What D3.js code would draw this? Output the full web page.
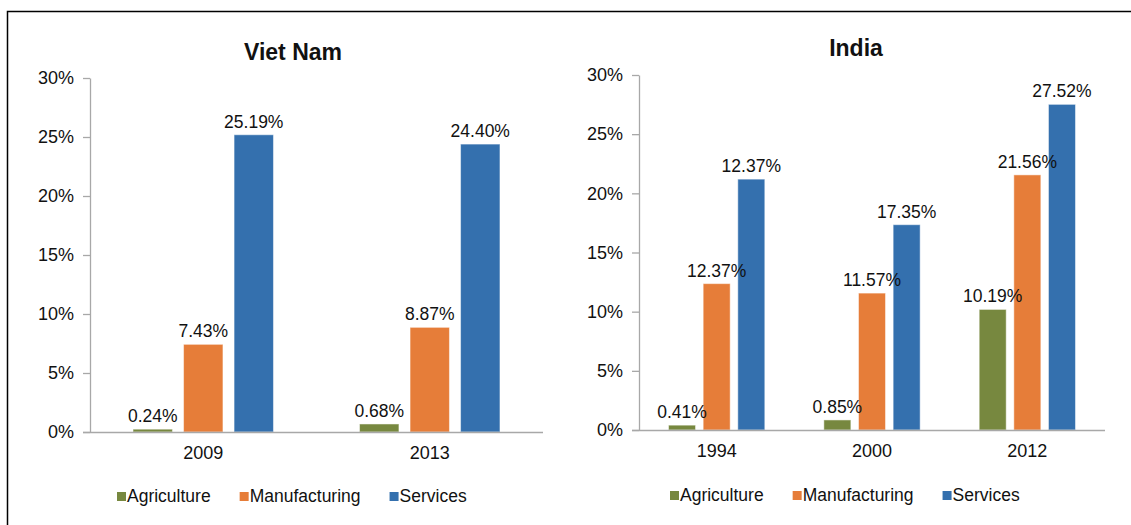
<!DOCTYPE html>
<html lang="en">
<head>
<meta charset="UTF-8">
<title>Viet Nam / India</title>
<style>
  html, body {
    margin: 0;
    background: #fff;
    overflow: hidden;
  }
  svg text {
    font-family: "Liberation Sans", Arial, sans-serif;
    fill: #111;
  }
</style>
</head>
<body>
<div id="container"></div>
<script src="https://cdnjs.cloudflare.com/ajax/libs/d3/7.8.5/d3.min.js"></script>
<script>
  // data
  var series = ["Agriculture", "Manufacturing", "Services"];
  var colors = ["#77883f", "#e67d39", "#3470ae"];
  var yTicks = [0, 5, 10, 15, 20, 25, 30];

  var vnYears = ["2009", "2013"];
  var vnAgriculture = [0.24, 0.68];
  var vnManufacturing = [7.43, 8.87];
  var vnServices = [25.19, 24.40];

  var inYears = ["1994", "2000", "2012"];
  var inAgriculture = [0.41, 0.85, 10.19];
  var inManufacturing = [12.37, 11.57, 21.56];
  var inServices = [21.2, 17.35, 27.52];
  // labels as printed on the chart (1994 services label differs from bar)
  var inServicesLabels = ["12.37%", "17.35%", "27.52%"];

  var W = 1131, H = 525;
  var svg = d3.select('#container').append('svg')
    .attr('width', W)
    .attr('height', H);

  // frame: top and left edges only
  svg.append('path')
    .attr('d', 'M7.5,' + H + 'V11.5H' + W)
    .attr('fill', 'none')
    .attr('stroke', '#000')
    .attr('stroke-width', 1.5);

  function fmt(v) { return v.toFixed(2) + '%'; }

  function drawChart(cfg) {
    var g = svg.append('g');

    var y = d3.scaleLinear().domain([0, 30]).range([cfg.bottom, cfg.top]);
    var x0 = d3.scaleBand().domain(cfg.cats).range([cfg.left, cfg.right])
      .paddingInner(0.38).paddingOuter(0.19);
    var x1 = d3.scaleBand().domain(series).range([0, x0.bandwidth()])
      .paddingInner(0.22);

    // title
    g.append('text')
      .attr('x', cfg.titleX)
      .attr('y', cfg.titleY)
      .attr('text-anchor', 'middle')
      .style('font-size', '23px')
      .style('font-weight', 'bold')
      .text(cfg.title);

    // y axis
    var yAxis = d3.axisLeft(y)
      .tickValues(yTicks)
      .tickSize(7)
      .tickSizeOuter(0)
      .tickPadding(9)
      .tickFormat(d => d + '%');
    var ya = g.append('g')
      .attr('transform', 'translate(' + cfg.left + ',0)')
      .call(yAxis);
    ya.selectAll('path, line').attr('stroke', '#a8a8a8').attr('stroke-width', 1.3);
    ya.selectAll('text').style('font-size', '18px').attr('fill', '#111');

    // bars
    var groups = g.selectAll('.grp')
      .data(cfg.cats)
      .enter().append('g')
      .attr('transform', d => 'translate(' + x0(d) + ',0)');

    groups.selectAll('rect')
      .data((d, i) => series.map((s, k) => ({ s: s, k: k, v: cfg.values[k][i], label: cfg.labels[k][i] })))
      .enter().append('rect')
      .attr('x', d => x1(d.s))
      .attr('width', x1.bandwidth())
      .attr('y', d => y(d.v))
      .attr('height', d => y(0) - y(d.v))
      .attr('fill', d => colors[d.k])
      .attr('stroke', '#fff')
      .attr('stroke-opacity', 0.5)
      .attr('stroke-width', 1);

    groups.selectAll('text.lbl')
      .data((d, i) => series.map((s, k) => ({ s: s, k: k, v: cfg.values[k][i], label: cfg.labels[k][i] })))
      .enter().append('text')
      .attr('class', 'lbl')
      .attr('x', d => x1(d.s) + x1.bandwidth() / 2)
      .attr('y', d => y(d.v) - 7)
      .attr('text-anchor', 'middle')
      .style('font-size', '17.5px')
      .text(d => d.label);

    // x axis
    var xAxis = d3.axisBottom(x0).tickSize(0).tickPadding(14);
    var xa = g.append('g')
      .attr('transform', 'translate(0,' + cfg.bottom + ')')
      .call(xAxis);
    xa.select('.domain')
      .attr('d', 'M' + (cfg.left - 7) + ',0.5H' + cfg.right)
      .attr('stroke', '#a8a8a8').attr('stroke-width', 1.5);
    xa.selectAll('text').style('font-size', '18px').attr('fill', '#111');

    // legend
    var lx = cfg.legendX;
    series.forEach(function(s, k) {
      g.append('rect')
        .attr('x', lx).attr('y', cfg.legendY - 10)
        .attr('width', 9).attr('height', 9)
        .attr('fill', colors[k]);
      var t = g.append('text')
        .attr('x', lx + 10)
        .attr('y', cfg.legendY)
        .style('font-size', '17.5px')
        .text(s);
      lx += 10 + t.node().getComputedTextLength() + 29;
    });
  }

  drawChart({
    title: 'Viet Nam', titleX: 293, titleY: 60,
    left: 90, right: 543, top: 78, bottom: 432,
    cats: vnYears,
    values: [vnAgriculture, vnManufacturing, vnServices],
    labels: [vnAgriculture.map(fmt), vnManufacturing.map(fmt), vnServices.map(fmt)],
    legendX: 117, legendY: 502
  });

  drawChart({
    title: 'India', titleX: 856, titleY: 56,
    left: 639, right: 1105, top: 75, bottom: 430,
    cats: inYears,
    values: [inAgriculture, inManufacturing, inServices],
    labels: [inAgriculture.map(fmt), inManufacturing.map(fmt), inServicesLabels],
    legendX: 670, legendY: 501
  });
</script>
</body>
</html>
